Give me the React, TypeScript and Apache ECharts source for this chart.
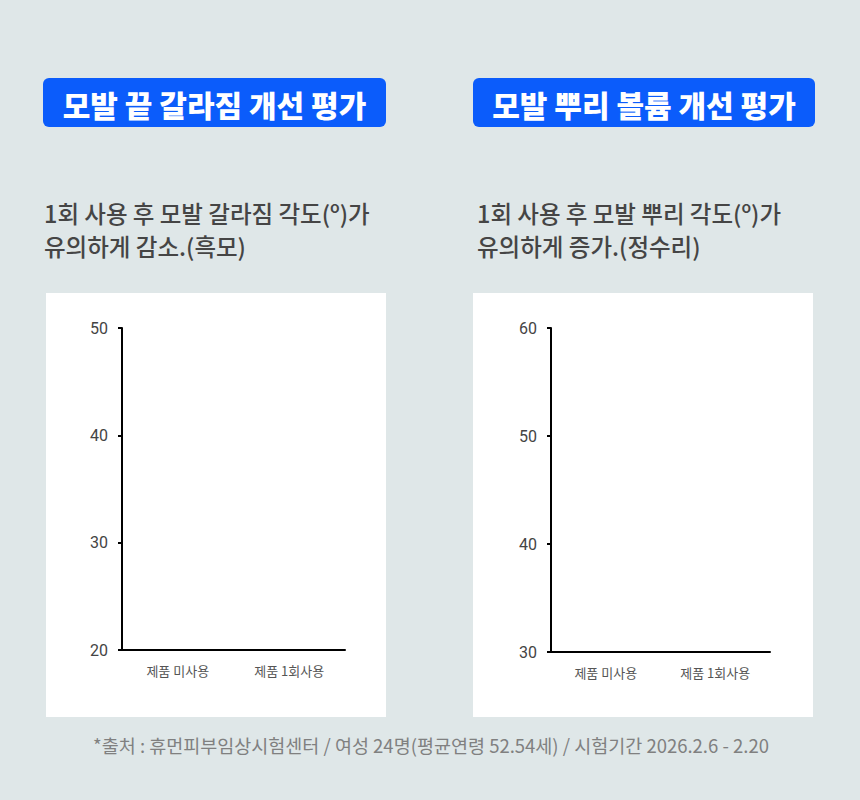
import React, { useEffect, useRef } from "react";
import * as echarts from "echarts";

const categories = ["제품 미사용", "제품 1회사용"];
const splitEndsValues = [43.0, 32.4];
const rootVolumeValues = [41.0, 52.0];
const leftTicks = { min: 20, max: 50, interval: 10 };
const rightTicks = { min: 30, max: 60, interval: 10 };

const titles = ["모발 끝 갈라짐 개선 평가", "모발 뿌리 볼륨 개선 평가"];
const subtitlesLeft = ["1회 사용 후 모발 갈라짐 각도(º)가", "유의하게 감소.(흑모)"];
const subtitlesRight = ["1회 사용 후 모발 뿌리 각도(º)가", "유의하게 증가.(정수리)"];
const footnote = "*출처 : 휴먼피부임상시험센터 / 여성 24명(평균연령 52.54세) / 시험기간 2026.2.6 - 2.20";

const KR = '"Noto Sans CJK KR", "Noto Sans", sans-serif';

export default function App() {
  const ref = useRef<HTMLDivElement>(null);
  useEffect(() => {
    if (!ref.current) return;
    const chart = echarts.init(ref.current, null, { renderer: "svg" });

    const axisCommon = {
      z: 10,
      axisLine: { show: true, lineStyle: { color: "#000", width: 2 } },
      axisTick: { show: true, length: 4, lineStyle: { color: "#000", width: 2 } },
      splitLine: { show: false },
    };

    const panel = (x: number) => ({
      type: "rect",
      z: -10,
      shape: { x, y: 293, width: 340, height: 424 },
      style: { fill: "#ffffff" },
    });
    const badge = (x: number, w: number, text: string) => [
      {
        type: "rect",
        z: -5,
        shape: { x, y: 78, width: w, height: 49, r: 6 },
        style: { fill: "#0b5cfb" },
      },
      {
        type: "text",
        z: -4,
        style: {
          text,
          x: x + w / 2,
          y: 104,
          textAlign: "center",
          textVerticalAlign: "middle",
          fill: "#ffffff",
          font: `900 30px ${KR}`,
        },
      },
    ];
    const sub = (x: number, y: number, text: string) => ({
      type: "text",
      z: -4,
      style: {
        text,
        x,
        y,
        textAlign: "left",
        textVerticalAlign: "middle",
        fill: "#454545",
        font: `500 23.5px ${KR}`,
      },
    });

    chart.setOption({
      animation: false,
      backgroundColor: "#dfe7e8",
      graphic: [
        panel(46),
        panel(473),
        ...badge(43, 343, titles[0]),
        ...badge(473, 342, titles[1]),
        sub(44, 213, subtitlesLeft[0]),
        sub(44, 246, subtitlesLeft[1]),
        sub(477, 213, subtitlesRight[0]),
        sub(477, 246, subtitlesRight[1]),
        {
          type: "text",
          z: -4,
          style: {
            text: footnote,
            x: 431,
            y: 745,
            textAlign: "center",
            textVerticalAlign: "middle",
            fill: "#808080",
            font: `18.5px ${KR}`,
          },
        },
      ],
      grid: [
        { left: 122, top: 328, width: 223, height: 322 },
        { left: 551, top: 328, width: 219, height: 324 },
      ],
      xAxis: [0, 1].map((i) => ({
        type: "category",
        gridIndex: i,
        data: categories,
        boundaryGap: true,
        ...axisCommon,
        axisTick: { show: false },
        axisLabel: { color: "#555", fontSize: 13, margin: 14, fontFamily: KR },
      })),
      yAxis: [leftTicks, rightTicks].map((t, i) => ({
        type: "value",
        gridIndex: i,
        min: t.min,
        max: t.max,
        interval: t.interval,
        ...axisCommon,
        axisLabel: { color: "#444", fontSize: 16, margin: 14, fontFamily: "Roboto, sans-serif" },
      })),
      series: [
        {
          type: "bar",
          xAxisIndex: 0,
          yAxisIndex: 0,
          data: splitEndsValues,
          barWidth: 36,
          itemStyle: { color: "#ffffff" },
          z: 0,
        },
        {
          type: "bar",
          xAxisIndex: 1,
          yAxisIndex: 1,
          data: rootVolumeValues,
          barWidth: 36,
          itemStyle: { color: "#ffffff" },
          z: 0,
        },
      ],
    });
    return () => chart.dispose();
  }, []);
  return (
    <div
      ref={ref}
      style={{ position: "absolute", left: 0, top: 0, width: 860, height: 800 }}
    />
  );
}
